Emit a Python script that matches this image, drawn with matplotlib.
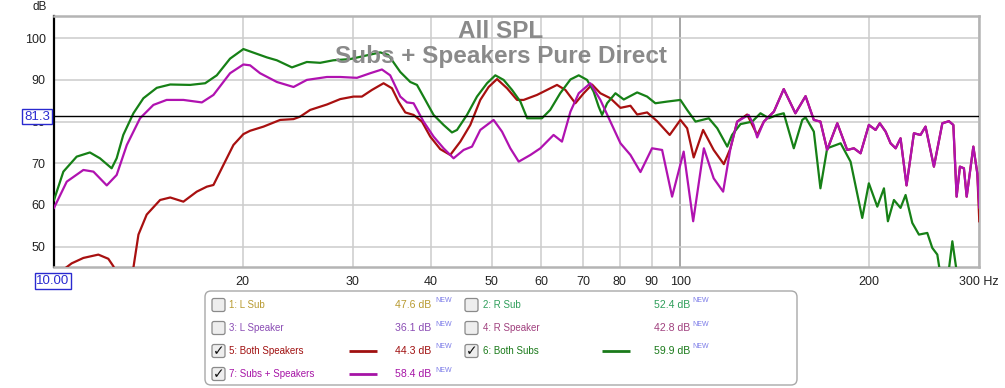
import numpy as np
import matplotlib
matplotlib.use("Agg")
import matplotlib.pyplot as plt
from matplotlib.patches import FancyBboxPatch

plt.rcParams['font.family'] = ['Liberation Sans', 'DejaVu Sans']

# ---- data (Hz, dB) ----
subs_f = [10.0, 10.35, 10.87, 11.41, 11.84, 12.36, 12.59, 12.90, 13.39, 13.89, 14.59, 15.33,
          16.49, 17.43, 18.19, 19.10, 20.06, 21.87, 22.69, 23.98, 25.33, 26.60, 27.91, 29.71,
          31.39, 33.17, 34.16, 34.80, 35.71, 37.05, 37.97, 39.15, 40.36, 41.87, 43.18, 43.99,
          45.63, 47.34, 49.12, 50.64, 52.21, 53.85, 55.53, 56.93, 58.33, 60.10, 61.96, 64.28,
          66.75, 68.81, 70.96, 72.68, 74.04, 74.98, 76.38, 78.75, 81.2, 85.3, 88.48, 91.2,
          95.22, 100.0, 102.5, 105.7, 111.0, 114.5, 118.8, 120.9, 124.7, 130.2, 134.2, 138.4,
          142.7, 146.2, 151.7, 156.5, 158.4, 163.3, 167.3, 171.5, 180.2, 186.9, 195.1, 199.9,
          206.2, 211.3, 214.4, 219.2, 224.6, 228.8, 234.5, 240.3, 247.8, 252.4, 257.1, 260.2,
          266.0, 271.7, 276.7, 285.0, 300.0]
subs_db = [61.2, 68.0, 71.6, 72.6, 71.2, 68.8, 71.2, 76.8, 82.0, 85.6, 88.1, 88.9,
           88.8, 89.2, 91.1, 95.1, 97.4, 95.4, 94.7, 93.0, 94.3, 94.1, 94.7, 95.0,
           95.8, 96.6, 96.0, 94.3, 91.9, 89.5, 88.8, 85.2, 81.6, 79.2, 77.4, 78.0,
           81.6, 86.0, 89.2, 91.1, 90.0, 87.6, 84.8, 80.8, 80.8, 80.8, 82.8, 86.8,
           90.1, 91.1, 90.0, 87.2, 83.6, 81.6, 84.4, 86.8, 85.3, 87.0, 86.0, 84.4,
           84.8, 85.2, 82.8, 80.0, 80.8, 78.4, 74.0, 76.8, 79.4, 80.0, 82.0, 80.8,
           81.6, 82.0, 73.6, 80.4, 81.0, 77.6, 64.0, 73.6, 74.8, 70.4, 56.9, 65.2,
           59.6, 64.0, 56.1, 61.2, 59.3, 62.4, 55.7, 52.9, 53.3, 49.7, 48.1, 43.0,
           40.0, 51.3, 43.0, 38.0, 36.0]

mix_f = [10.0, 10.48, 11.14, 11.56, 12.14, 12.59, 13.07, 13.72, 14.41, 15.13, 16.09, 17.22,
         17.97, 19.10, 20.06, 20.56, 21.33, 22.69, 24.12, 25.33, 27.27, 28.64, 30.45, 31.97,
         33.38, 34.41, 35.71, 36.60, 37.50, 38.90, 40.36, 41.87, 43.44, 45.07, 46.48, 47.92,
         50.32, 51.90, 53.51, 55.19, 57.61, 59.76, 62.73, 64.70, 66.75, 68.81, 71.82, 74.51,
         77.30, 80.22, 83.22, 86.34, 90.09, 93.49, 96.99, 101.2, 104.8, 109.0, 113.0, 117.0,
         120.2, 123.2, 128.5, 130.9, 132.6, 135.9, 141.0, 146.2, 152.6, 158.4, 163.3, 167.3,
         171.5, 178.0, 184.6, 189.2, 193.9, 199.9, 204.9, 208.1, 212.6, 216.5, 220.6, 224.6,
         229.6, 235.9, 241.7, 246.2, 253.9, 261.9, 268.3, 272.7, 276.0, 279.4, 283.5, 286.4,
         293.5, 297.8, 300.0]
mix_db = [59.3, 65.6, 68.4, 68.0, 64.7, 67.2, 74.4, 80.8, 84.0, 85.2, 85.2, 84.6,
          86.4, 91.6, 93.7, 93.5, 91.6, 89.5, 88.3, 90.0, 90.7, 90.7, 90.5, 91.6,
          92.5, 91.1, 86.0, 84.6, 84.4, 80.0, 76.4, 73.6, 71.2, 73.2, 74.0, 78.0,
          80.4, 77.6, 73.6, 70.4, 72.0, 73.6, 76.8, 75.2, 82.4, 86.8, 89.2, 85.2,
          80.0, 74.8, 72.0, 67.9, 73.6, 73.2, 62.0, 72.8, 56.1, 73.6, 66.4, 63.2,
          73.6, 80.0, 81.6, 79.2, 76.2, 80.0, 82.4, 87.8, 82.0, 86.1, 80.4, 80.0,
          73.2, 79.6, 73.2, 73.6, 72.4, 79.2, 78.0, 79.6, 77.6, 74.8, 73.6, 76.0,
          64.7, 77.2, 76.8, 78.8, 69.2, 79.6, 80.1, 79.2, 62.0, 69.2, 68.8, 62.0,
          74.0, 67.6, 59.4]

spk_f = [10.0, 10.35, 10.67, 11.14, 11.77, 12.21, 12.44, 12.75, 13.1, 13.39, 13.64, 14.06,
         14.77, 15.33, 16.09, 16.90, 17.54, 17.97, 18.64, 19.34, 20.06, 20.56, 21.60, 22.96,
         24.12, 24.72, 25.64, 27.27, 28.64, 30.07, 31.01, 32.18, 33.58, 34.63, 35.48, 36.37,
         37.50, 38.67, 39.87, 41.36, 42.91, 44.53, 46.19, 47.92, 49.41, 50.96, 52.87, 54.85,
         56.20, 59.03, 61.24, 63.53, 65.51, 67.96, 70.08, 72.26, 74.51, 77.30, 80.22, 83.22,
         85.30, 88.48, 91.78, 96.14, 100.0, 102.5, 105.0, 108.7, 113.0, 117.3, 120.2, 123.2,
         127.8, 132.6, 135.9, 141.0, 146.2, 152.6, 158.4, 163.3, 167.3, 171.5, 178.0, 184.6,
         189.2, 193.9, 199.9, 204.9, 208.1, 212.6, 216.5, 220.6, 224.6, 229.6, 235.9, 241.7,
         246.2, 253.9, 261.9, 268.3, 272.7, 276.0, 279.4, 283.5, 286.4, 293.5, 297.8, 300.0]
spk_db = [42.0, 44.5, 46.0, 47.3, 48.1, 47.1, 45.3, 41.0, 41.0, 45.0, 52.9, 57.7,
          61.2, 61.8, 60.8, 63.2, 64.4, 64.8, 69.6, 74.4, 77.0, 77.8, 78.8, 80.4,
          80.6, 81.2, 82.8, 84.1, 85.4, 86.0, 86.0, 87.6, 89.2, 88.0, 84.8, 82.2,
          81.6, 80.0, 76.4, 73.4, 72.0, 75.2, 79.2, 85.2, 88.3, 90.2, 88.0, 85.2,
          85.2, 86.4, 87.6, 88.8, 87.6, 84.4, 86.8, 88.9, 86.8, 85.6, 83.3, 83.8,
          81.7, 82.2, 80.1, 76.8, 80.4, 78.4, 71.4, 78.0, 73.2, 69.8, 73.6, 80.0,
          81.7, 76.8, 80.0, 82.4, 87.8, 82.0, 86.1, 80.4, 80.0, 73.2, 79.6, 73.2,
          73.6, 72.4, 79.2, 78.0, 79.6, 77.6, 74.8, 73.6, 76.0, 64.7, 77.2, 76.8,
          78.8, 69.2, 79.6, 80.1, 79.2, 62.0, 69.2, 68.8, 62.0, 74.0, 67.6, 56.1]

ref_level = 81.3
x_ticks = [20, 30, 40, 50, 60, 70, 80, 90, 100, 200, 300]
x_labels = ['20', '30', '40', '50', '60', '70', '80', '90', '100', '200', '300 Hz']
y_ticks = [50, 60, 70, 80, 90, 100]

leg_names = ['1: L Sub', '2: R Sub', '3: L Speaker', '4: R Speaker',
             '5: Both Speakers', '6: Both Subs', '7: Subs + Speakers']
leg_values = ['47.6 dB', '52.4 dB', '36.1 dB', '42.8 dB', '44.3 dB', '59.9 dB', '58.4 dB']
leg_checked = [False, False, False, False, True, True, True]
leg_colors = ['#b89a30', '#2e9e5a', '#8a4cb4', '#a0407e', '#a01010', '#1a7a1a', '#a614a6']

c_spk = '#a81010'
c_subs = '#168016'
c_mix = '#b012b0'

# ---- figure ----
W, H = 1005, 388
fig = plt.figure(figsize=(W / 100, H / 100), dpi=100)
ax = fig.add_axes([54 / W, 1 - 266.7 / H, (979.3 - 54) / W, (266.7 - 15.7) / H])

ax.plot(spk_f, spk_db, color=c_spk, lw=1.6, zorder=3)
ax.plot(subs_f, subs_db, color=c_subs, lw=1.6, zorder=4)
ax.plot(mix_f, mix_db, color=c_mix, lw=1.6, zorder=5)
ax.axhline(ref_level, color='black', lw=1.0, zorder=6)

ax.set_xscale('log')
ax.set_xlim(10, 300)
ax.set_ylim(45.2, 105.4)
ax.xaxis.set_minor_locator(matplotlib.ticker.NullLocator())
ax.set_xticks(x_ticks)
ax.set_xticklabels(x_labels)
ax.set_yticks(y_ticks)
ax.tick_params(length=0, labelsize=9, colors='#222222')
ax.tick_params(axis='x', pad=7)
ax.tick_params(axis='y', pad=6)

for f in x_ticks:
    ax.axvline(f, color='#8e8e8e' if f == 100 else '#cccccc', lw=1.1, zorder=1)
for v in y_ticks:
    ax.axhline(v, color='#cccccc', lw=1.1, zorder=1)

for side in ['top', 'right', 'bottom']:
    ax.spines[side].set_color('#b4b4b4')
    ax.spines[side].set_linewidth(1.8)
ax.spines['left'].set_color('black')
ax.spines['left'].set_linewidth(1.6)

# ---- overlay in pixel coordinates ----
ov = fig.add_axes([0, 0, 1, 1], zorder=10)
ov.set_xlim(0, W)
ov.set_ylim(H, 0)
ov.axis('off')

ov.text(40, 7, 'dB', ha='center', va='center', fontsize=8.5, color='#222222')
ov.text(501, 32, 'All SPL', ha='center', va='center', fontsize=17.5, fontweight='bold',
        color='#8a8a8a')
ov.text(501, 57, 'Subs + Speakers Pure Direct', ha='center', va='center', fontsize=17.5,
        fontweight='bold', color='#8a8a8a')

box_style = dict(boxstyle='square,pad=0.12', facecolor='white', edgecolor='#2a2ad0', lw=1.0)
ov.text(37, 116.5, '81.3', ha='center', va='center', fontsize=9.5, color='#2a2ad0', bbox=box_style)
ov.text(53, 281, '10.00', ha='center', va='center', fontsize=9.5, color='#2a2ad0', bbox=box_style)

# legend panel
ov.add_patch(FancyBboxPatch((205, 291), 592, 94, boxstyle='round,pad=0,rounding_size=6',
                            facecolor='white', edgecolor='#a8a8a8', lw=1.0))
rows = [305, 328, 351, 374]
cols = [dict(cb=212, name=229, val=395, new=435, sw=(349, 377)),
        dict(cb=465, name=483, val=654, new=692, sw=(602, 630))]
for i, name in enumerate(leg_names):
    r = rows[i // 2]
    c = cols[i % 2]
    ov.add_patch(FancyBboxPatch((c['cb'], r - 6.5), 13, 13,
                                boxstyle='round,pad=0,rounding_size=2',
                                facecolor='#eeeeee', edgecolor='#8a8a8a', lw=0.9))
    if leg_checked[i]:
        ov.text(c['cb'] + 6.5, r, '\u2713', ha='center', va='center', fontsize=10,
                fontweight='bold', family='DejaVu Sans', color='#111111')
        ov.plot(c['sw'], [r, r], color=leg_colors[i], lw=2.0, solid_capstyle='butt')
    ov.text(c['name'], r, name, ha='left', va='center', fontsize=7, color=leg_colors[i])
    ov.text(c['val'], r, leg_values[i], ha='left', va='center', fontsize=7.6,
            color=leg_colors[i])
    ov.text(c['new'], r - 4, 'NEW', ha='left', va='center', fontsize=5, color='#7a7ae8')

fig.savefig('out.png', dpi=100)
